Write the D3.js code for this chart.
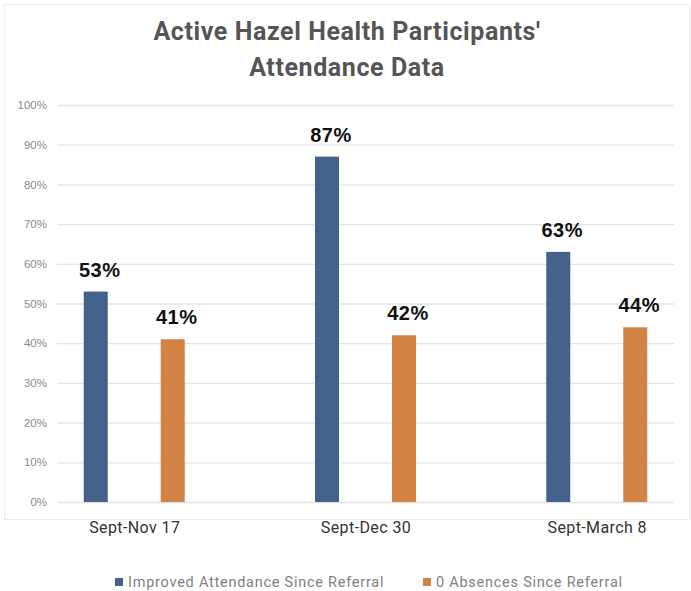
<!DOCTYPE html>
<html>
<head>
<meta charset="utf-8">
<script src="https://cdn.jsdelivr.net/npm/d3@7"></script>
<style>
  html, body { margin: 0; padding: 0; background: #fff; }
  svg { display: block; }
</style>
</head>
<body>
<div id="chart"></div>
<script>
  "use strict";

  const categories = ["Sept-Nov 17", "Sept-Dec 30", "Sept-March 8"];
  const seriesNames = ["Improved Attendance Since Referral", "0 Absences Since Referral"];
  const improvedValues = [0.53, 0.87, 0.63];
  const zeroAbsenceValues = [0.41, 0.42, 0.44];
  const yTicks = [0, 0.1, 0.2, 0.3, 0.4, 0.5, 0.6, 0.7, 0.8, 0.9, 1.0];
  const titleLines = ["Active Hazel Health Participants'", "Attendance Data"];
  const colors = ["#44618C", "#D28242"];

  const width = 691;
  const height = 591;
  const plot = { left: 57, right: 674, top: 105, bottom: 502 };

  const svg = d3.select("#chart")
    .append("svg")
    .attr("width", width)
    .attr("height", height);

  // faint frame around the chart area
  svg.append("rect")
    .attr("x", 4.5).attr("y", 4.5)
    .attr("width", 685).attr("height", 515)
    .attr("fill", "none")
    .attr("stroke", "#ececec");

  svg.append("g")
    .selectAll("text")
    .data(titleLines)
    .join("text")
    .attr("x", 347)
    .attr("y", (d, i) => 40 + i * 36)
    .attr("text-anchor", "middle")
    .attr("font-family", "Roboto, 'Liberation Sans', sans-serif")
    .attr("font-weight", 700)
    .attr("font-size", 25)
    .attr("letter-spacing", 0.6)
    .attr("fill", "#555")
    .text((d) => d);

  const y = d3.scaleLinear().domain([0, 1]).range([plot.bottom, plot.top]);
  const x = d3.scalePoint().domain(categories).range([plot.left, plot.right]).padding(0.334);
  const barW = 24;
  const offsets = [-38.5, 38.5];

  const yAxis = d3.axisLeft(y)
    .tickValues(yTicks)
    .tickFormat(d3.format(".0%"))
    .tickSize(-(plot.right - plot.left))
    .tickPadding(10);

  const gy = svg.append("g")
    .attr("transform", `translate(${plot.left},0)`)
    .call(yAxis);
  gy.select(".domain").remove();
  gy.selectAll(".tick line").attr("stroke", "#e3e3e3").attr("stroke-width", 1.3);
  gy.selectAll(".tick text")
    .attr("font-family", "'Liberation Sans', Arial, sans-serif")
    .attr("font-size", 11.5)
    .attr("fill", "#8a8a8a");

  const series = [improvedValues, zeroAbsenceValues];

  const groups = svg.append("g")
    .selectAll("g")
    .data(series)
    .join("g")
    .attr("fill", (d, i) => colors[i]);

  groups.each(function (vals, si) {
    const g = d3.select(this);
    g.selectAll("rect")
      .data(vals)
      .join("rect")
      .attr("x", (d, i) => x(categories[i]) + offsets[si] - barW / 2)
      .attr("y", (d) => y(d))
      .attr("width", barW)
      .attr("height", (d) => y(0) - y(d));

    g.selectAll("text")
      .data(vals)
      .join("text")
      .attr("x", (d, i) => x(categories[i]) + offsets[si] + 4)
      .attr("y", (d) => y(d) - 15)
      .attr("text-anchor", "middle")
      .attr("font-family", "'Liberation Sans', Arial, sans-serif")
      .attr("font-weight", 700)
      .attr("font-size", 20)
      .attr("letter-spacing", 0.5)
      .attr("fill", "#111")
      .text((d) => d3.format(".0%")(d));
  });

  const xAxis = d3.axisBottom(x).tickSize(0).tickPadding(20);
  const gx = svg.append("g")
    .attr("transform", `translate(0,${plot.bottom})`)
    .call(xAxis);
  gx.select(".domain").remove();
  gx.selectAll(".tick text")
    .attr("font-family", "Roboto, 'Liberation Sans', sans-serif")
    .attr("font-size", 16)
    .attr("letter-spacing", 0.4)
    .attr("fill", "#333");

  const legendX = [115, 423];
  const legend = svg.append("g")
    .selectAll("g")
    .data(seriesNames)
    .join("g")
    .attr("transform", (d, i) => `translate(${legendX[i]},578)`);
  legend.append("rect")
    .attr("width", 8).attr("height", 8)
    .attr("fill", (d, i) => colors[i]);
  legend.append("text")
    .attr("x", 13)
    .attr("y", 8.5)
    .attr("font-family", "Roboto, 'Liberation Sans', sans-serif")
    .attr("font-size", 14.5)
    .attr("letter-spacing", 0.75)
    .attr("fill", "#808080")
    .text((d) => d);
</script>
</body>
</html>
